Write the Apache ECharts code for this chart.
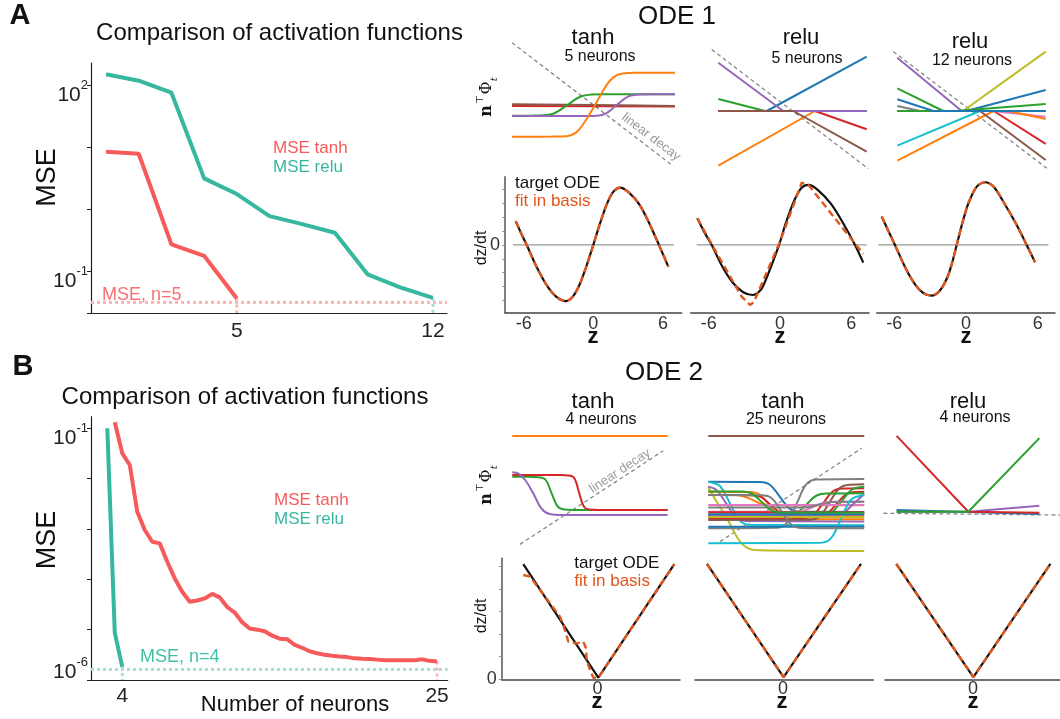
<!DOCTYPE html>
<html><head><meta charset="utf-8">
<script src="https://cdn.jsdelivr.net/npm/echarts@6/dist/echarts.min.js"></script>
<style>html,body{margin:0;padding:0;background:#fff}#c{width:1060px;height:719px}</style>
</head><body><div id="c"></div>
<script>
// ================= DATA =================
// Panel A, left: MSE vs number of neurons (x = plotted position)
const A_X_RELU = [1,2,3,4,5,6,7,8,9,10,11];
const A_MSE_RELU = [148.6,117.2,75.2,3.16,1.77,0.783,0.582,0.423,0.0906,0.0558,0.038];
const A_X_TANH = [1,2,3,4,5];
const A_MSE_TANH = [8.47,7.87,0.275,0.180,0.0372];
const A_THRESH = 0.0321;
const A_XTICK_POS = [5,11];
const A_XTICK_LABELS = ['5','12'];
const A_YTICK_EXP = [2,-1];

// Panel B, left
const B_N_RELU = [3,3.5,4];
const B_MSE_RELU = [0.1,8.7e-6,1.82e-6];
const B_N_TANH = [3.5,4,4.5,5,5.5,6,6.5,7,7.5,8,8.5,9,9.5,10,10.5,11,11.5,12,12.5,13,13.5,14,14.5,15,15.5,16,16.5,17,17.5,18,18.5,19,19.5,20,20.5,21,21.5,22,22.5,23,23.5,24,24.5,25];
const B_MSE_TANH = [0.1315,0.03184,0.01866,0.002203,0.0009528,0.0005585,0.0005176,0.0002234,0.0001042,5.66e-5,3.58e-5,3.80e-5,4.17e-5,5.13e-5,4.37e-5,2.82e-5,2.19e-5,1.41e-5,1.05e-5,1.0e-5,9.33e-6,7.59e-6,6.61e-6,6.46e-6,5.01e-6,4.37e-6,3.72e-6,3.39e-6,3.16e-6,3.02e-6,2.92e-6,2.85e-6,2.69e-6,2.63e-6,2.60e-6,2.54e-6,2.48e-6,2.48e-6,2.48e-6,2.48e-6,2.48e-6,2.57e-6,2.40e-6,2.32e-6];
const B_THRESH = 1.62e-6;
const B_XTICK_POS = [4,25];
const B_YTICK_EXP = [-1,-6];

// ODE 1 basis functions (z, n^T phi)
const ODE1_TANH5 = [
  [[-7,-0.12],[7,-0.16]],
  [[-7,0.09],[0,0],[7,-0.12]],
  [[-7,-1.2],[-5.2,-1.19],[-4.3,-1.15],[-3.4,-0.95],[-2.25,0],[-1.1,0.95],[-0.2,1.17],[0.8,1.2],[7,1.2]],
  [[-7,-1.24],[-0.7,-1.23],[0.3,-1.2],[1.0,-1.0],[1.99,0],[3.0,0.97],[3.9,1.17],[4.9,1.2],[7,1.2]],
  [[-7,-3.56],[-3.5,-3.55],[-2.3,-3.5],[-1.5,-3.1],[-0.8,-2.0],[0.13,0],[1.0,2.0],[1.7,3.1],[2.5,3.55],[3.7,3.62],[7,3.63]]
];
const ODE1_RELU5 = [
  [[-7,0],[-2.43,0],[7,6.74]],
  [[-7,-6.79],[2.12,0],[7,0]],
  [[-7,1.49],[-2.59,0],[7,0]],
  [[-7,0],[2.12,0],[7,-2.27]],
  [[-7,5.99],[-0.87,0],[7,0]],
  [[-7,0],[0.08,0],[7,-5.05]]
];
const ODE1_RELU12 = [
  [[-7,-6.16],[2.1,0],[7,0]],
  [[-7,0],[2.1,0],[7,-4.09]],
  [[-7,6.62],[-0.92,0],[7,0]],
  [[-7,0],[0.8,0],[7,-6.08]],
  [[-7,0],[2.0,0],[7,-0.7]],
  [[-7,0.62],[-4.86,0],[7,0]],
  [[-7,0],[-0.8,0],[7,7.36]],
  [[-7,-4.3],[0.8,0],[7,0]],
  [[-7,0],[-0.5,0],[7,2.6]],
  [[-7,0],[3.5,0],[7,-1.0]],
  [[-7,0],[-1.5,0],[7,0.87]],
  [[-7,2.8],[-2.66,0],[7,0]],
  [[-7,1.45],[-3.6,0],[7,0]]
];
const DECAY_T1 = [[-7,7],[6.86,-6.86]];
const DECAY_T2 = [[-7.62,7.62],[7.15,-7.15]];
const DECAY_T3 = [[-7.38,7.38],[7.25,-7.25]];

// ODE 1 fits (z, dz/dt)
const A1_TARGET = [[-6.69,1.71],[-6.2,0.8],[-5.74,0],[-4.9,-1.55],[-4.05,-2.85],[-3.2,-3.72],[-2.35,-4.04],[-1.75,-3.7],[-1.18,-2.85],[-0.6,-1.55],[0,0],[0.6,1.6],[1.15,2.9],[1.7,3.8],[2.3,4.12],[3.1,3.75],[3.98,2.9],[4.8,1.6],[5.66,0],[6.47,-1.57]];
const A1_FIT    = [[-6.69,1.71],[-6.2,0.8],[-5.74,0],[-4.9,-1.55],[-4.05,-2.85],[-3.2,-3.72],[-2.35,-4.04],[-1.75,-3.7],[-1.18,-2.85],[-0.6,-1.55],[0,0],[0.6,1.6],[1.15,2.9],[1.7,3.8],[2.3,4.12],[3.1,3.75],[3.98,2.9],[4.8,1.6],[5.66,0],[6.47,-1.57]];
const A2_TARGET = [[-6.97,1.92],[-6.4,0.95],[-5.76,0],[-4.9,-1.5],[-4.0,-2.7],[-3.1,-3.4],[-2.3,-3.6],[-1.6,-3.2],[-1.2,-2.5],[-0.6,-1.2],[-0.08,0],[0.5,1.6],[1.2,3.2],[1.8,4.1],[2.39,4.32],[3.2,3.95],[4.3,2.95],[5.3,1.6],[6.32,0],[7.02,-1.27]];
const A2_FIT    = [[-6.97,1.92],[-5.76,0.05],[-3.23,-3.72],[-2.53,-4.32],[-2.2,-4.1],[0,0.24],[1.83,4.48],[2.39,4.32],[7.02,-0.65]];
const A3_TARGET = [[-7.06,2.04],[-6.5,1.0],[-5.95,0],[-5.1,-1.6],[-4.3,-2.8],[-3.6,-3.45],[-2.87,-3.65],[-2.2,-3.3],[-1.6,-2.4],[-1.2,-1.4],[-0.78,0],[-0.3,1.6],[0.2,3.0],[0.9,4.2],[1.59,4.51],[2.3,4.2],[3.2,3.0],[4.2,1.5],[5.08,0],[5.78,-1.24]];
const A3_FIT    = [[-7.06,2.04],[-6.5,1.0],[-5.95,0],[-5.1,-1.6],[-4.3,-2.8],[-3.6,-3.45],[-2.87,-3.65],[-2.2,-3.3],[-1.6,-2.4],[-1.2,-1.4],[-0.78,0],[-0.3,1.6],[0.2,3.0],[0.9,4.2],[1.59,4.51],[2.3,4.2],[3.2,3.0],[4.2,1.5],[5.08,0],[5.78,-1.24]];
const A1_ZERO = [[-6.92,0],[6.96,0]];
const A2_ZERO = [[-7.02,0],[7.3,0]];
const A3_ZERO = [[-7.35,0],[6.9,0]];

// ODE 2 basis functions
const ODE2_TANH4 = [
  [[-7,8.63],[7,8.63]],
  [[-7,3.02],[-5.4,3.0],[-4.6,2.95],[-4.0,2.6],[-3.45,0.72],[-2.9,-1.1],[-2.3,-1.5],[-1.5,-1.56],[7,-1.57]],
  [[-7,3.26],[-2.8,3.24],[-1.9,3.2],[-1.4,2.8],[-0.99,0.85],[-0.55,-1.1],[-0.1,-1.5],[0.8,-1.56],[7,-1.57]],
  [[-7,3.63],[-6.4,3.4],[-5.8,2.5],[-5.1,0.7],[-4.4,-1.3],[-3.7,-2.1],[-2.8,-2.25],[-1.8,-2.26],[7,-2.26]]
];
const ODE2_TANH25 = [
  [[-7,8.45],[7,8.45]],
  [[-7,2.22],[-2.37,2.18],[-1.47,1.81],[-0.57,0.16],[0.33,-1.49],[1.23,-1.86],[7,-1.9]],
  [[-7,2.22],[-6.85,2.16],[-5.95,1.63],[-5.05,-0.74],[-4.15,-3.11],[-3.25,-3.64],[7,-3.7]],
  [[-7,1.53],[-6.7,0.66],[-5.3,-2.85],[-3.9,-6.35],[-2.5,-7.13],[7,-7.22]],
  [[-7,1.53],[-6.25,1.06],[-5.35,-0.84],[-4.45,-2.73],[-3.55,-3.15],[7,-3.2]],
  [[-7,0.86],[-3.3,0.82],[-2.4,0.48],[-1.5,-1.02],[-0.6,-2.52],[0.3,-2.86],[7,-2.9]],
  [[-7,0.41],[-4.8,0.4],[-3.9,0.27],[-3.0,-0.3],[-2.1,-0.86],[-1.2,-0.99],[7,-1.0]],
  [[-7,0.41],[-3.2,0.38],[-2.3,0.14],[-1.4,-0.95],[-0.5,-2.03],[0.4,-2.27],[7,-2.3]],
  [[-7,-2.77],[1.5,-2.73],[2.4,-2.36],[3.3,-0.73],[4.2,0.91],[5.1,1.28],[7,1.32]],
  [[-7,-2.55],[2.7,-2.52],[3.6,-2.21],[4.5,-0.85],[5.4,0.52],[6.3,0.83],[7,0.86]],
  [[-7,-4.13],[-0.87,-4.06],[0.03,-3.46],[0.93,-0.77],[1.83,1.92],[2.73,2.52],[7,2.59]],
  [[-7,-3.0],[2.1,-2.95],[3.0,-2.51],[3.9,-0.57],[4.8,1.37],[5.7,1.81],[7,1.86]],
  [[-7,-2.32],[0.03,-2.29],[0.93,-2.02],[1.83,-0.84],[2.73,0.34],[3.63,0.61],[7,0.64]],
  [[-7,-2.3],[3.2,-2.26],[4.1,-1.92],[5.0,-0.39],[5.9,1.15],[6.8,1.49],[7,1.53]],
  [[-7,-1.87],[0.63,-1.86],[1.53,-1.73],[2.43,-1.19],[3.33,-0.64],[4.23,-0.51],[7,-0.5]],
  [[-7,-0.95],[7,-0.95]],
  [[-7,-1.3],[1.2,-1.29],[2.1,-1.22],[3.0,-0.9],[3.9,-0.58],[4.8,-0.51],[7,-0.5]],
  [[-7,-2.32],[4.2,-2.3],[5.1,-2.04],[6.0,-0.85],[7,0.55]],
  [[-7,-6.17],[3.1,-6.1],[4.0,-5.51],[4.9,-2.88],[5.8,-0.25],[6.7,0.34],[7,0.41]],
  [[-7,-2.6],[7,-2.6]],
  [[-7,-3.91],[7,-3.91]],
  [[-7,0.41],[-2.21,0.36],[-1.31,-0.04],[-0.41,-1.86],[0.49,-3.68],[1.39,-4.08],[7,-4.13]],
  [[-7,-1.95],[7,-1.95]],
  [[-7,-2.2],[7,-2.2]],
  [[-7,0.9],[-4.0,0.87],[-3.1,0.61],[-2.2,-0.55],[-1.3,-1.71],[-0.4,-1.97],[7,-2.0]]
];
const ODE2_RELU4 = [
  [[-7,0.55],[7,0]],
  [[-7,0.3],[0.03,0.3],[7,1.14]],
  [[-7,10.7],[0.03,0.3],[7,0.18]],
  [[-7,0.3],[0.03,0.3],[7,10.4]]
];
const DECAY_T4 = [[-6.31,-6.31],[6.6,6.6]];
const DECAY_T5 = [[-5.95,-5.95],[6.77,6.77]];
const DECAY_T6 = [[-8.3,0.1],[9,-0.14]];

// ODE 2 fits
const B1_TARGET = [[-6.57,5.09],[0.07,0.07],[6.8,5.09]];
const B1_FIT = [[-6.57,4.61],[-5.97,4.54],[-3.32,2.77],[-3.03,2.4],[-2.58,1.66],[-1.84,1.59],[-1.26,1.66],[-1.02,1.37],[-0.96,0.85],[-0.66,0.41],[-0.37,0.07],[0.07,0.07],[6.8,5.09]];
const B2_TARGET = [[-6.73,5.1],[0.05,0.1],[6.9,5.1]];
const B2_FIT = [[-6.73,5.1],[0.05,0.1],[6.9,5.1]];
const B3_TARGET = [[-6.79,5.1],[0.03,0.1],[6.85,5.1]];
const B3_FIT = [[-6.79,5.1],[0.03,0.1],[6.85,5.1]];
const Z_TICKS_A = [-6,0,6];
const Z_TICKS_B = [0];

// ================= STYLE =================
const FONT = '"Liberation Sans", Arial, Helvetica, sans-serif';
const RED = '#f75a5a', TEAL = '#36b79f', RED_LIGHT = '#fbb3b3', TEAL_LIGHT = '#a5e0d4';
const FITC = '#e0561b', BLACK = '#111', DECAYC = '#888';
const C = {blue:'#1f77b4',orange:'#ff7f0e',green:'#2ca02c',red:'#d62728',purple:'#9467bd',brown:'#8c564b',pink:'#e377c2',gray:'#7f7f7f',olive:'#bcbd22',cyan:'#17becf'};
const T1_COLORS = [C.red,C.brown,C.green,C.purple,C.orange];
const T2_COLORS = [C.blue,C.orange,C.green,C.red,C.purple,C.brown];
const T3_COLORS = [C.orange,C.red,C.purple,C.brown,C.pink,C.gray,C.olive,C.cyan,C.blue,C.orange,C.green,C.green,C.blue];
const T4_COLORS = [C.orange,C.green,C.red,C.purple];
const T5_COLORS = [C.brown,C.blue,C.cyan,C.olive,C.purple,C.orange,C.orange,C.red,C.red,C.red,C.gray,C.brown,C.green,C.green,C.pink,C.pink,C.gray,C.purple,C.cyan,C.olive,C.blue,C.gray,C.red,C.blue,C.green];
const T6_COLORS = [C.blue,C.purple,C.red,C.green];

// ================= BUILD =================
const grids=[], xAxes=[], yAxes=[], series=[], texts=[];
function addGrid(box, xa, ya){
  const i = grids.length;
  grids.push(Object.assign({containLabel:false}, box));
  xAxes.push(Object.assign({gridIndex:i}, xa));
  yAxes.push(Object.assign({gridIndex:i}, ya));
  return i;
}
function hidden(min,max){ return {type:'value', min, max, show:false}; }
function addLine(gi, data, ls, extra){
  series.push(Object.assign({type:'line', xAxisIndex:gi, yAxisIndex:gi, data, symbol:'none', silent:true, lineStyle:ls}, extra||{}));
}
function supLabel(exps, lowExp){
  return {
    formatter: v => {
      const e = Math.round(Math.log10(v));
      if (!exps.includes(e)) return '';
      return e === lowExp ? '{bl|10}{sl|'+e+'}' : '{b|10}{s|'+e+'}';
    },
    padding:[14,0,0,0], margin:3,
    rich:{ b:{fontSize:21, color:'#222', verticalAlign:'bottom', fontFamily:FONT},
           s:{fontSize:13, color:'#222', verticalAlign:'bottom', padding:[0,0,14,0], fontFamily:FONT},
           bl:{fontSize:21, color:'#222', verticalAlign:'bottom', padding:[0,0,36,0], fontFamily:FONT},
           sl:{fontSize:13, color:'#222', verticalAlign:'bottom', padding:[0,0,50,0], fontFamily:FONT} }
  };
}
const axLine = {show:true, onZero:false, lineStyle:{color:'#222', width:1.2}};

// ---- A left ----
const A_XMIN = 0.54, A_XMAX = 11.43, A_YMIN = 0.02168, A_YMAX = 226;
const gA = addGrid({left:91, top:63, width:356, height:250},
  {type:'value', min:A_XMIN, max:A_XMAX, axisLine:axLine, axisTick:{show:false}, splitLine:{show:false},
   axisLabel:{customValues:A_XTICK_POS, formatter:v=>A_XTICK_LABELS[A_XTICK_POS.indexOf(v)], fontSize:21, color:'#222', margin:8}},
  {type:'log', logBase:10, min:A_YMIN, max:A_YMAX, axisLine:axLine, splitLine:{show:false},
   axisTick:{show:true, length:4, lineStyle:{color:'#222'}}, axisLabel:supLabel(A_YTICK_EXP, null)});
addLine(gA, [[A_XMIN,A_THRESH],[A_XMAX,A_THRESH]], {color:RED_LIGHT, width:3, type:[3,3]});
addLine(gA, [[A_X_TANH[4],A_MSE_TANH[4]],[A_X_TANH[4],A_YMIN]], {color:RED_LIGHT, width:3, type:[3,3]}, {clip:false});
addLine(gA, [[A_X_RELU[10],A_MSE_RELU[10]],[A_X_RELU[10],A_YMIN]], {color:TEAL_LIGHT, width:3, type:[3,3]}, {clip:false});
addLine(gA, A_X_TANH.map((x,i)=>[x,A_MSE_TANH[i]]), {color:RED, width:4});
addLine(gA, A_X_RELU.map((x,i)=>[x,A_MSE_RELU[i]]), {color:TEAL, width:4});

// ---- B left ----
const B_XMIN = 1.913, B_XMAX = 25.71, B_YMIN = 1e-6, B_YMAX = 0.170;
const gB = addGrid({left:91, top:416.7, width:356.7, height:263.3},
  {type:'value', min:B_XMIN, max:B_XMAX, axisLine:axLine, axisTick:{show:false}, splitLine:{show:false},
   axisLabel:{customValues:B_XTICK_POS, fontSize:21, color:'#222', margin:6}},
  {type:'log', logBase:10, min:B_YMIN, max:B_YMAX, axisLine:axLine, splitLine:{show:false},
   axisTick:{show:true, length:4, lineStyle:{color:'#222'}}, axisLabel:supLabel(B_YTICK_EXP, -6)});
addLine(gB, [[B_XMIN,B_THRESH],[B_XMAX,B_THRESH]], {color:TEAL_LIGHT, width:3, type:[3,3]});
addLine(gB, [[B_N_RELU[2],B_MSE_RELU[2]],[B_N_RELU[2],B_YMIN]], {color:TEAL_LIGHT, width:3, type:[3,3]}, {clip:false});
addLine(gB, [[B_N_TANH[43],B_MSE_TANH[43]],[B_N_TANH[43],B_YMIN]], {color:RED_LIGHT, width:3, type:[3,3]}, {clip:false});
addLine(gB, B_N_TANH.map((x,i)=>[x,B_MSE_TANH[i]]), {color:RED, width:4});
addLine(gB, B_N_RELU.map((x,i)=>[x,B_MSE_RELU[i]]), {color:TEAL, width:4});

// ---- basis panels ----
function basis(box, xr, yr, lines, colors, decay, smooth){
  const g = addGrid(box, hidden(xr[0],xr[1]), hidden(yr[0],yr[1]));
  addLine(g, decay, {color:DECAYC, width:1.3, type:[4,3]}, {clip:false});
  lines.forEach((d,k)=>addLine(g, d, {color:colors[k], width:2}, smooth?{smooth:0.4}:{}));
}
basis({left:505, top:40, width:177, height:130}, [-7.6,7.6], [-7.3,7.3], ODE1_TANH5, T1_COLORS, DECAY_T1, true);
basis({left:711, top:40, width:163, height:142}, [-7.69,7.69], [-8.81,8.81], ODE1_RELU5, T2_COLORS, DECAY_T2, false);
basis({left:890, top:40, width:163, height:142}, [-7.69,7.69], [-8.81,8.81], ODE1_RELU12, T3_COLORS, DECAY_T3, false);
basis({left:505.6, top:426.1, width:168.7, height:130.5}, [-7.6,7.6], [-8,10], ODE2_TANH4, T4_COLORS, DECAY_T4, true);
basis({left:701.6, top:424.6, width:169.3, height:132.1}, [-7.6,7.6], [-8,10], ODE2_TANH25, T5_COLORS, DECAY_T5, true);
basis({left:880, top:426.4, width:180, height:131.4}, [-8.63,9.02], [-6,12], ODE2_RELU4, T6_COLORS, DECAY_T6, false);

// ---- fit panels ----
function fitPanel(box, xr, yr, target, fit, zero, opts){
  const xa = {type:'value', min:xr[0], max:xr[1], axisLine:{show:true,onZero:false,lineStyle:{color:'#444',width:1.5}},
    axisTick:{show:false}, splitLine:{show:false},
    axisLabel:{customValues:opts.zt, formatter:v=>String(v), fontSize:18, color:'#333', margin:opts.xm}};
  const ya = {type:'value', min:yr[0], max:yr[1], splitLine:{show:false},
    axisLine:{show:!!opts.yaxis, onZero:false, lineStyle:{color:'#555',width:1.5}},
    axisTick:{show:!!opts.yaxis, length:3, customValues:opts.yt, lineStyle:{color:'#999'}},
    axisLabel:{show:!!opts.yaxis, customValues:[0], formatter:v=>String(v), fontSize:18, color:'#333', margin:5}};
  const g = addGrid(box, xa, ya);
  if (zero) addLine(g, zero, {color:'#999', width:1.3});
  addLine(g, target, {color:BLACK, width:2.2}, {smooth:opts.smooth?0.3:false});
  addLine(g, fit, {color:FITC, width:2.4, type:[7,4]}, {smooth:opts.smoothFit?0.3:false});
}
const YT_A = [-4,-3,-2,-1,0,1,2,3,4];
const YT_B = [0,1,2,3,4,5];
fitPanel({left:505, top:176.7, width:176.7, height:135.8}, [-7.61,7.62], [-4.86,4.91], A1_TARGET, A1_FIT, A1_ZERO, {zt:Z_TICKS_A, xm:3, yaxis:true, yt:YT_A, smooth:true, smoothFit:true});
fitPanel({left:690.7, top:176.7, width:178.3, height:135.8}, [-7.53,7.5], [-4.86,4.91], A2_TARGET, A2_FIT, A2_ZERO, {zt:Z_TICKS_A, xm:3, smooth:true, smoothFit:false});
fitPanel({left:876.7, top:176.7, width:178.3, height:135.8}, [-7.48,7.45], [-4.86,4.91], A3_TARGET, A3_FIT, A3_ZERO, {zt:Z_TICKS_A, xm:3, smooth:true, smoothFit:true});
fitPanel({left:501.7, top:558.3, width:178.3, height:121}, [-8.48,7.3], [0,5.35], B1_TARGET, B1_FIT, null, {zt:Z_TICKS_B, xm:1, yaxis:true, yt:YT_B});
fitPanel({left:695, top:558.3, width:178.3, height:121}, [-7.79,7.99], [0,5.35], B2_TARGET, B2_FIT, null, {zt:Z_TICKS_B, xm:1});
fitPanel({left:885, top:558.3, width:175, height:121}, [-7.79,7.7], [0,5.35], B3_TARGET, B3_FIT, null, {zt:Z_TICKS_B, xm:1});

// ---- texts ----
function txt(x,y,text,size,o){
  o = o||{};
  return {type:'text', x, y, rotation:o.rot||0, silent:true, z:100,
    style:{text, fontSize:size, fontFamily:o.ff||FONT, fontWeight:o.fw||'normal', fill:o.fill||'#111',
      align:o.align||'center', verticalAlign:'middle', rich:o.rich}};
}
const R90 = Math.PI/2;
texts.push(txt(20,16,'A',29,{fw:'bold'}));
texts.push(txt(23,367,'B',29,{fw:'bold'}));
texts.push(txt(279.5,33,'Comparison of activation functions',24));
texts.push(txt(245,397,'Comparison of activation functions',24));
texts.push(txt(48,177.5,'MSE',27,{rot:R90}));
texts.push(txt(48,540,'MSE',27,{rot:R90}));
texts.push(txt(273,148,'MSE tanh',17,{align:'left',fill:RED}));
texts.push(txt(273,167,'MSE relu',17,{align:'left',fill:TEAL}));
texts.push(txt(274,500,'MSE tanh',17,{align:'left',fill:RED}));
texts.push(txt(274,519,'MSE relu',17,{align:'left',fill:TEAL}));
texts.push(txt(102,295,'MSE, n=5',18,{align:'left',fill:'#f77272'}));
texts.push(txt(140,656.7,'MSE, n=4',18,{align:'left',fill:'#3fbfa6'}));
texts.push(txt(295,705,'Number of neurons',22));
texts.push(txt(677,17,'ODE 1',26));
texts.push(txt(664,373,'ODE 2',26));
texts.push(txt(593,38,'tanh',22)); texts.push(txt(600,57,'5 neurons',16));
texts.push(txt(801,38,'relu',22)); texts.push(txt(807,59,'5 neurons',16));
texts.push(txt(970,42,'relu',22)); texts.push(txt(972,61,'12 neurons',16));
texts.push(txt(593,401.7,'tanh',22)); texts.push(txt(601,420,'4 neurons',16));
texts.push(txt(783,401.7,'tanh',22)); texts.push(txt(786,420,'25 neurons',16));
texts.push(txt(968,401.7,'relu',22)); texts.push(txt(975,418,'4 neurons',16));
texts.push(txt(651,137,'linear decay',13,{rot:-0.65,fill:'#999'}));
texts.push(txt(620,471,'linear decay',13,{rot:0.58,fill:'#999'}));
texts.push(txt(515,183.3,'target ODE',17,{align:'left'}));
texts.push(txt(515,201.7,'fit in basis',17,{align:'left',fill:FITC}));
texts.push(txt(574.3,563.3,'target ODE',17,{align:'left'}));
texts.push(txt(574.3,581.7,'fit in basis',17,{align:'left',fill:FITC}));
texts.push(txt(482,248,'dz/dt',16,{rot:R90}));
texts.push(txt(482,616,'dz/dt',16,{rot:R90}));
const NPHI_RICH = {
  n:{fontFamily:'DejaVu Serif', fontWeight:'bold', fontSize:16, verticalAlign:'bottom', padding:[0,0,4,0]},
  t:{fontFamily:'DejaVu Sans', fontSize:10, verticalAlign:'bottom', padding:[0,1,14,1]},
  p:{fontFamily:'DejaVu Serif', fontSize:16, verticalAlign:'bottom', padding:[0,0,4,0]},
  u:{fontFamily:'DejaVu Serif', fontStyle:'italic', fontSize:10, verticalAlign:'bottom'}
};
texts.push(txt(487,97,'{n|n}{t|⊤}{p|Φ}{u|t}',16,{rot:R90,rich:NPHI_RICH}));
texts.push(txt(487,485,'{n|n}{t|⊤}{p|Φ}{u|t}',16,{rot:R90,rich:NPHI_RICH}));
[[593,337],[780,337],[966,337],[597,702],[782,702],[973,702]].forEach(p=>texts.push(txt(p[0],p[1],'z',22,{fw:'bold'})));

const chart = echarts.init(document.getElementById('c'), null, {renderer:'canvas'});
chart.setOption({animation:false, backgroundColor:'#fff', textStyle:{fontFamily:FONT},
  grid:grids, xAxis:xAxes, yAxis:yAxes, series, graphic:texts});
</script></body></html>
